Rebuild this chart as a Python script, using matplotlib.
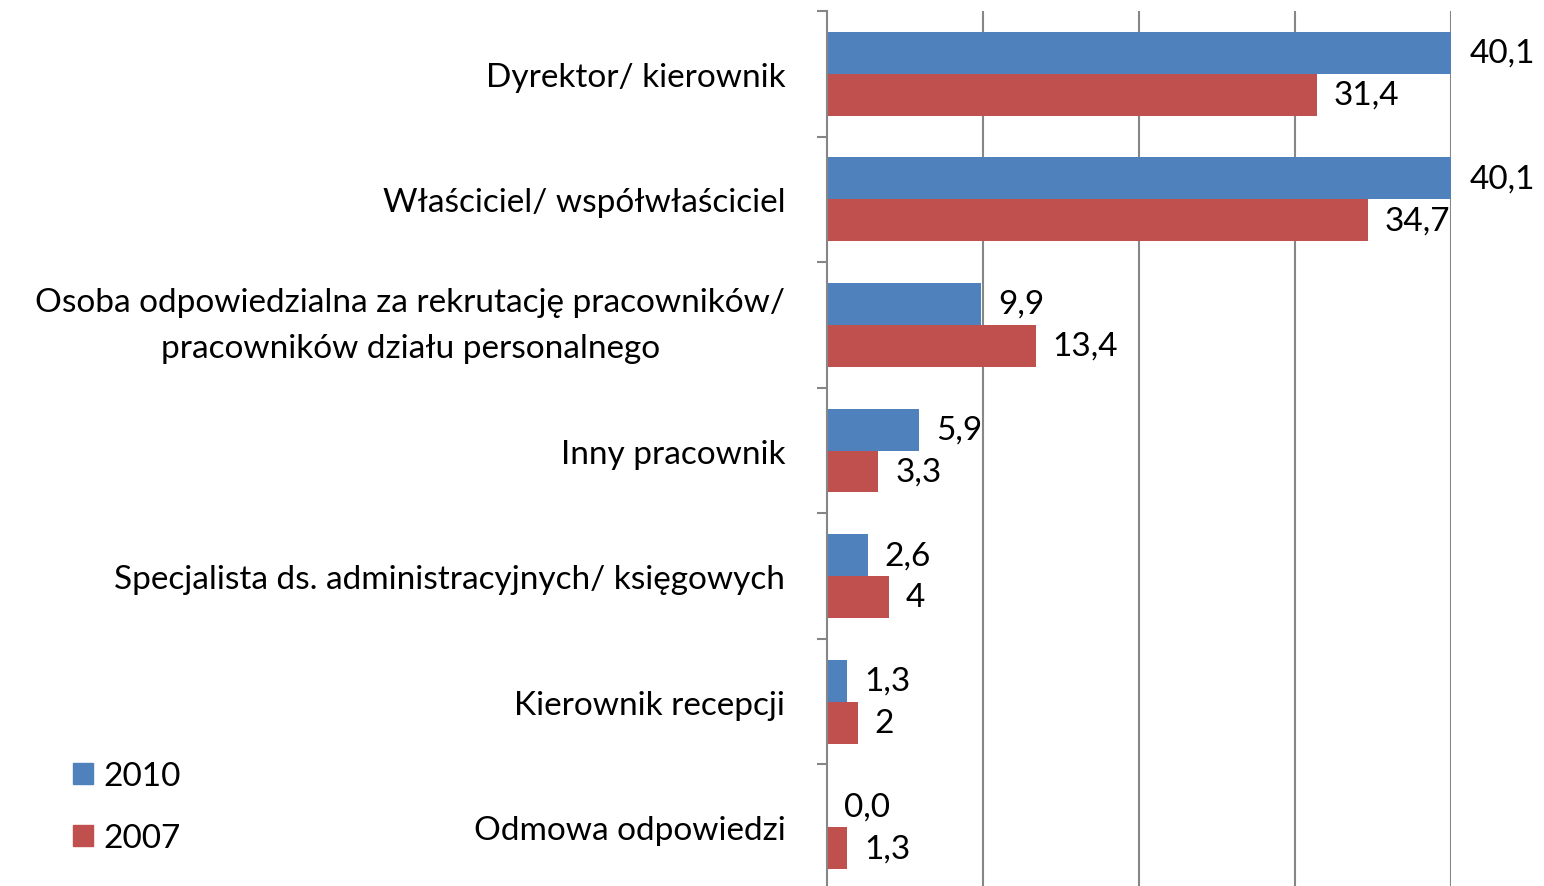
import numpy as np
import matplotlib.pyplot as plt
from matplotlib.patches import Patch

plt.rcParams['font.family'] = ['Lato', 'DejaVu Sans']

categories = ["Dyrektor/ kierownik",
              "Właściciel/ współwłaściciel",
              "Osoba odpowiedzialna za rekrutację pracowników/\npracowników działu personalnego",
              "Inny pracownik",
              "Specjalista ds. administracyjnych/ księgowych",
              "Kierownik recepcji",
              "Odmowa odpowiedzi"]
values_2010 = [40.1, 40.1, 9.9, 5.9, 2.6, 1.3, 0.0]
values_2007 = [31.4, 34.7, 13.4, 3.3, 4, 2, 1.3]
labels_2010 = ["40,1", "40,1", "9,9", "5,9", "2,6", "1,3", "0,0"]
labels_2007 = ["31,4", "34,7", "13,4", "3,3", "4", "2", "1,3"]

blue = "#4F81BD"
red = "#C0504D"
grey = "#868686"
fs = 24

fig = plt.figure(figsize=(15.44, 8.87), dpi=100)
ax = fig.add_axes([827 / 1544, -4 / 887, 624 / 1544, 879 / 887])

y = np.arange(len(categories))
h = 0.334
b1 = ax.barh(y - h / 2, values_2010, height=h, color=blue, label="2010")
b2 = ax.barh(y + h / 2, values_2007, height=h, color=red, label="2007")
ax.bar_label(b1, labels=labels_2010, padding=12, fontsize=fs, annotation_clip=False)
ax.bar_label(b2, labels=labels_2007, padding=12, fontsize=fs, annotation_clip=False)

ax.set_xlim(0, 40)
ax.set_ylim(len(categories) - 0.5, -0.5)
ax.set_xticks([10, 20, 30, 40])
ax.xaxis.grid(True, color=grey, linewidth=1.5)
ax.set_axisbelow(True)
ax.tick_params(axis='x', length=0, labelbottom=False)

# category labels between boundary ticks
ax.set_yticks(np.arange(-0.5, len(categories)), minor=False)
ax.set_yticklabels([])
ax.set_yticks(y, minor=True)
ax.set_yticklabels(categories, minor=True, fontsize=fs, multialignment='center',
                   linespacing=1.65)
ax.tick_params(axis='y', which='major', length=7, width=1.5, color=grey)
ax.tick_params(axis='y', which='minor', length=0, pad=30)
# the two-line label sits centred on its block, not on the baseline
ax.get_yticklabels(minor=True)[2].set_va('center')

for s in ['top', 'right', 'bottom']:
    ax.spines[s].set_visible(False)
ax.spines['left'].set_color(grey)
ax.spines['left'].set_linewidth(1.5)

handles = [Patch(color=blue, label="2010"), Patch(color=red, label="2007")]
fig.legend(handles=handles, loc='center left', bbox_to_anchor=(43 / 1544, 1 - 808 / 887),
           frameon=False, fontsize=fs, handlelength=0.6, handleheight=0.6,
           handletextpad=0.3, labelspacing=0.95)

fig.savefig("out.png", dpi=100)
